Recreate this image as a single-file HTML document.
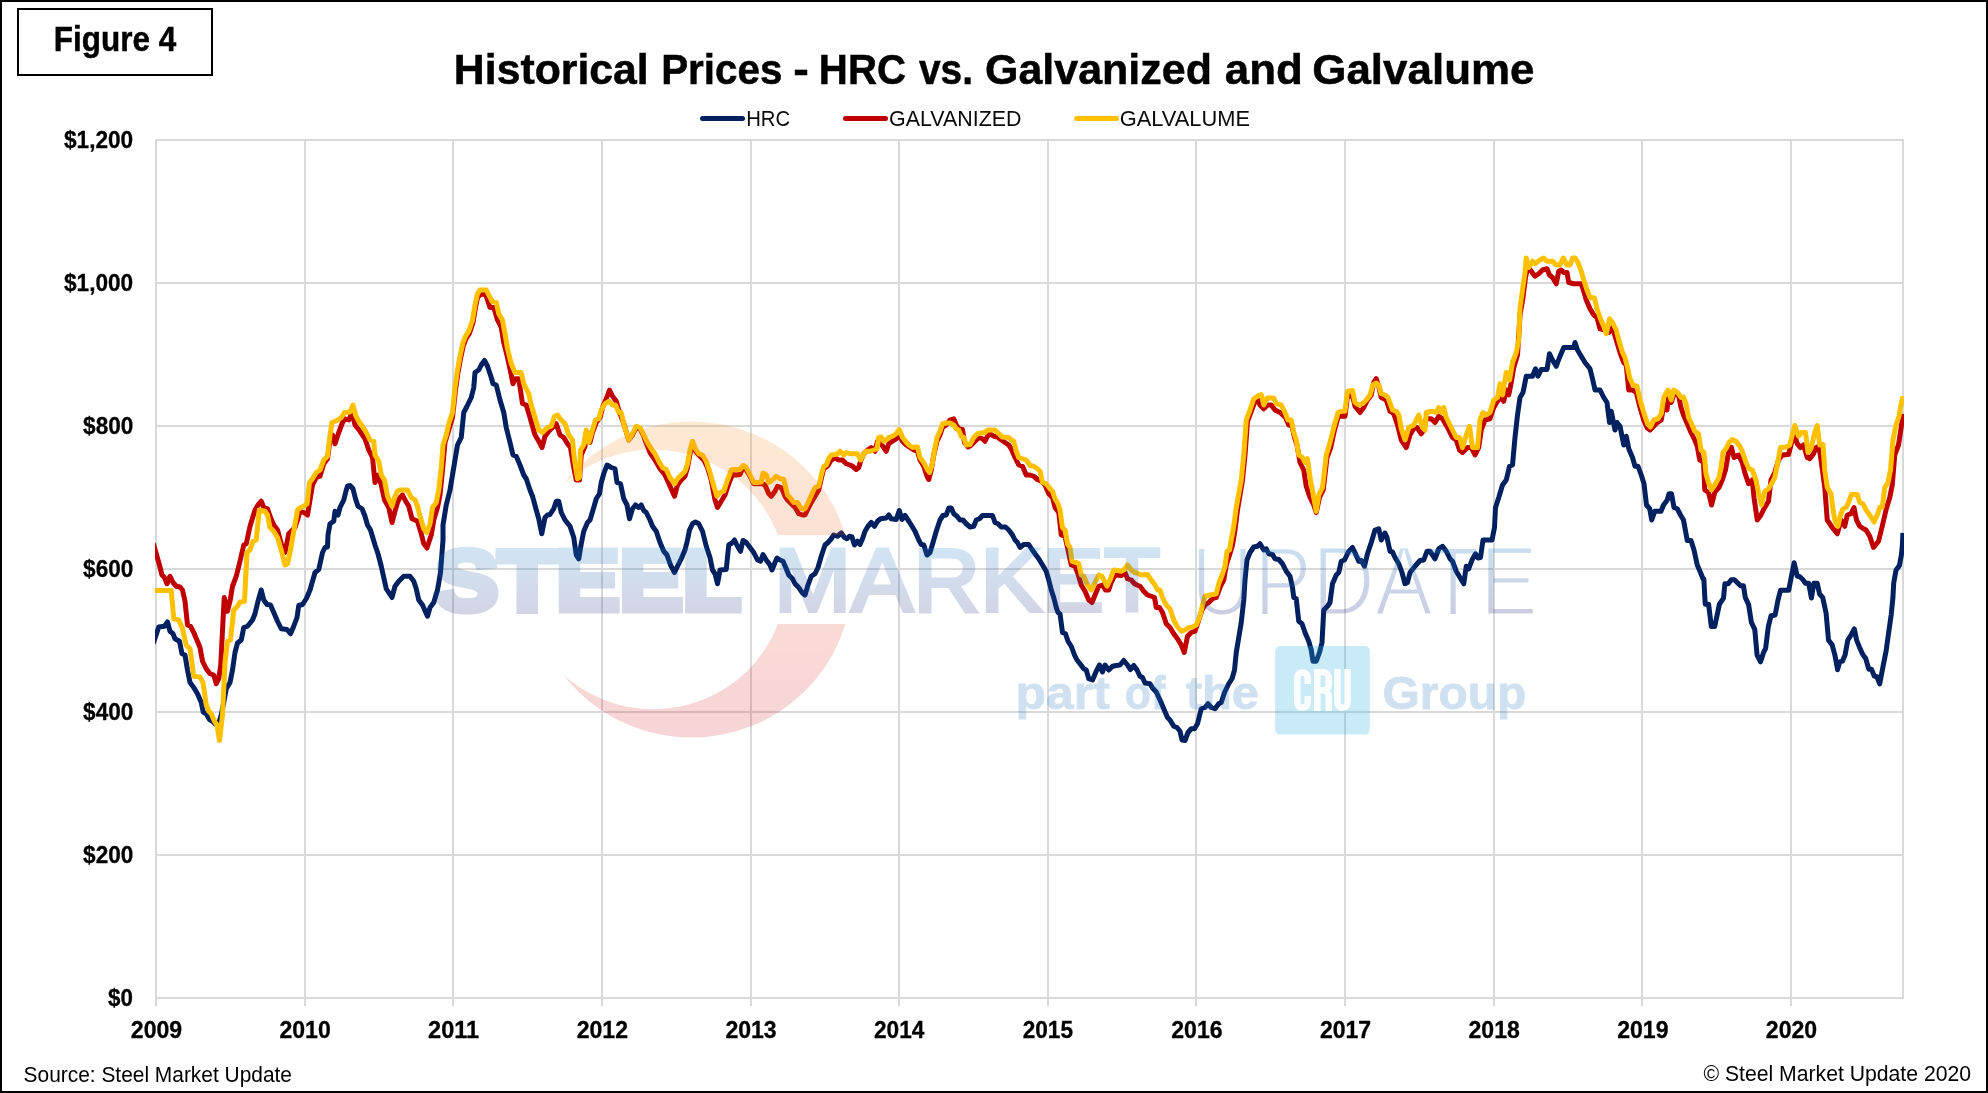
<!DOCTYPE html>
<html lang="en">
<head>
<meta charset="utf-8">
<title>Figure 4 - Historical Prices - HRC vs. Galvanized and Galvalume</title>
<style>
  html, body { margin: 0; padding: 0; background: #ffffff; }
  body { width: 1988px; height: 1093px; overflow: hidden; font-family: "Liberation Sans", sans-serif; }
  svg { display: block; will-change: transform; }
  text { font-family: "Liberation Sans", sans-serif; }
  .grid line { stroke: #d9d9d9; stroke-width: 2; shape-rendering: crispEdges; }
  .axis text { fill: #000; }
  .series polyline { fill: none; stroke-width: 5; stroke-linejoin: round; stroke-linecap: butt; }
</style>
</head>
<body>
<svg width="1988" height="1093" viewBox="0 0 1988 1093">
  <defs>
    <linearGradient id="gCres" x1="0" y1="421" x2="0" y2="739" gradientUnits="userSpaceOnUse">
      <stop offset="0" stop-color="#f7941d"/>
      <stop offset="0.45" stop-color="#ee5a28"/>
      <stop offset="1" stop-color="#cf2030"/>
    </linearGradient>
    <linearGradient id="gTxt" x1="0" y1="547" x2="0" y2="613" gradientUnits="userSpaceOnUse">
      <stop offset="0" stop-color="#2b86c9"/>
      <stop offset="1" stop-color="#363c8c"/>
    </linearGradient>
    <clipPath id="plotClip"><rect x="155" y="139" width="1749" height="860"/></clipPath>
    <mask id="updMask" maskUnits="userSpaceOnUse" x="1185" y="535" width="360" height="90">
      <text x="1190.77" y="614.6" font-size="98" textLength="347.2" lengthAdjust="spacingAndGlyphs" fill="#fff" stroke="#000" stroke-width="3.2">UPDATE</text>
    </mask>
    <mask id="cresMask" maskUnits="userSpaceOnUse" x="500" y="400" width="400" height="360">
      <ellipse cx="691.4" cy="579.5" rx="160.5" ry="158.1" fill="#fff"/>
      <ellipse cx="653.2" cy="579.5" rx="132.6" ry="129.7" fill="#000"/>
      <rect x="500" y="535.2" width="400" height="88.8" fill="#000"/>
    </mask>
  </defs>

  <!-- background + outer border -->
  <rect x="0" y="0" width="1988" height="1093" fill="#ffffff"/>
  <rect x="1" y="1" width="1986" height="1091" fill="none" stroke="#000000" stroke-width="2"/>

  <!-- Figure label box -->
  <rect x="18" y="9" width="194" height="66" fill="#ffffff" stroke="#000000" stroke-width="2"/>
  <g><text x="53.8" y="50.9" font-size="35" font-weight="bold" textLength="122.32" lengthAdjust="spacingAndGlyphs" stroke="#000" stroke-width="0.5">Figure 4</text></g>

  <!-- Title -->
  <g fill="#000" stroke="#000" stroke-width="0.5">
    <text x="453.89" y="84.4" font-size="42.6" font-weight="bold" textLength="194.83" lengthAdjust="spacingAndGlyphs">Historical</text>
    <text x="661.15" y="84.4" font-size="42.6" font-weight="bold" textLength="121.44" lengthAdjust="spacingAndGlyphs">Prices</text>
    <text x="793.3" y="84.4" font-size="42.6" font-weight="bold" textLength="15.61" lengthAdjust="spacingAndGlyphs">-</text>
    <text x="818.87" y="84.4" font-size="42.6" font-weight="bold" textLength="87.14" lengthAdjust="spacingAndGlyphs">HRC</text>
    <text x="918.9" y="84.4" font-size="42.6" font-weight="bold" textLength="54.13" lengthAdjust="spacingAndGlyphs">vs.</text>
    <text x="984.98" y="84.4" font-size="42.6" font-weight="bold" textLength="226.94" lengthAdjust="spacingAndGlyphs">Galvanized</text>
    <text x="1224.77" y="84.4" font-size="42.6" font-weight="bold" textLength="78.05" lengthAdjust="spacingAndGlyphs">and</text>
    <text x="1312.24" y="84.4" font-size="42.6" font-weight="bold" textLength="222.26" lengthAdjust="spacingAndGlyphs">Galvalume</text>
  </g>

  <!-- Legend -->
  <g fill="#0a0a0a">
    <line x1="702.5" y1="118.5" x2="742.5" y2="118.5" stroke="#002060" stroke-width="5" stroke-linecap="round"/>
    <text x="746.16" y="126" font-size="22" textLength="43.96" lengthAdjust="spacingAndGlyphs">HRC</text>
    <line x1="845.5" y1="118.5" x2="885.5" y2="118.5" stroke="#c00000" stroke-width="5" stroke-linecap="round"/>
    <text x="889.03" y="126" font-size="22" textLength="132.45" lengthAdjust="spacingAndGlyphs">GALVANIZED</text>
    <line x1="1076.7" y1="118.5" x2="1116.5" y2="118.5" stroke="#ffc000" stroke-width="5" stroke-linecap="round"/>
    <text x="1119.71" y="126" font-size="22" textLength="130.32" lengthAdjust="spacingAndGlyphs">GALVALUME</text>
  </g>

  <!-- Grid -->
  <g class="grid">
    <line x1="155.0" y1="140" x2="1904.0" y2="140"/>
    <line x1="155.0" y1="283" x2="1904.0" y2="283"/>
    <line x1="155.0" y1="426" x2="1904.0" y2="426"/>
    <line x1="155.0" y1="569" x2="1904.0" y2="569"/>
    <line x1="155.0" y1="712" x2="1904.0" y2="712"/>
    <line x1="155.0" y1="855" x2="1904.0" y2="855"/>
    <line x1="155.0" y1="998" x2="1904.0" y2="998"/>
    <line x1="156" y1="139.0" x2="156" y2="1006.0"/>
    <line x1="305" y1="139.0" x2="305" y2="1006.0"/>
    <line x1="453" y1="139.0" x2="453" y2="1006.0"/>
    <line x1="602" y1="139.0" x2="602" y2="1006.0"/>
    <line x1="751" y1="139.0" x2="751" y2="1006.0"/>
    <line x1="899" y1="139.0" x2="899" y2="1006.0"/>
    <line x1="1048" y1="139.0" x2="1048" y2="1006.0"/>
    <line x1="1196" y1="139.0" x2="1196" y2="1006.0"/>
    <line x1="1345" y1="139.0" x2="1345" y2="1006.0"/>
    <line x1="1494" y1="139.0" x2="1494" y2="1006.0"/>
    <line x1="1642" y1="139.0" x2="1642" y2="1006.0"/>
    <line x1="1791" y1="139.0" x2="1791" y2="1006.0"/>
    <line x1="1903.0" y1="139.0" x2="1903.0" y2="999.0"/>
  </g>

  <!-- Axis labels -->
  <g class="axis" stroke="#000" stroke-width="0.3">
    <text x="64.0" y="147.8" font-size="23.8" font-weight="bold" textLength="69.16" lengthAdjust="spacingAndGlyphs">$1,200</text>
    <text x="64.0" y="290.8" font-size="23.8" font-weight="bold" textLength="69.16" lengthAdjust="spacingAndGlyphs">$1,000</text>
    <text x="83.1" y="433.8" font-size="23.8" font-weight="bold" textLength="50.2" lengthAdjust="spacingAndGlyphs">$800</text>
    <text x="83.1" y="576.8" font-size="23.8" font-weight="bold" textLength="50.2" lengthAdjust="spacingAndGlyphs">$600</text>
    <text x="83.1" y="719.8" font-size="23.8" font-weight="bold" textLength="50.2" lengthAdjust="spacingAndGlyphs">$400</text>
    <text x="83.1" y="862.8" font-size="23.8" font-weight="bold" textLength="50.2" lengthAdjust="spacingAndGlyphs">$200</text>
    <text x="108.0" y="1005.8" font-size="23.8" font-weight="bold" textLength="24.85" lengthAdjust="spacingAndGlyphs">$0</text>
    <text x="130.83" y="1038" font-size="23.8" font-weight="bold" textLength="51.29" lengthAdjust="spacingAndGlyphs">2009</text>
    <text x="279.47" y="1038" font-size="23.8" font-weight="bold" textLength="51.29" lengthAdjust="spacingAndGlyphs">2010</text>
    <text x="428.08" y="1038" font-size="23.8" font-weight="bold" textLength="51.02" lengthAdjust="spacingAndGlyphs">2011</text>
    <text x="576.74" y="1038" font-size="23.8" font-weight="bold" textLength="51.29" lengthAdjust="spacingAndGlyphs">2012</text>
    <text x="725.38" y="1038" font-size="23.8" font-weight="bold" textLength="51.29" lengthAdjust="spacingAndGlyphs">2013</text>
    <text x="874.03" y="1038" font-size="23.8" font-weight="bold" textLength="50.31" lengthAdjust="spacingAndGlyphs">2014</text>
    <text x="1022.67" y="1038" font-size="23.8" font-weight="bold" textLength="50.31" lengthAdjust="spacingAndGlyphs">2015</text>
    <text x="1171.29" y="1038" font-size="23.8" font-weight="bold" textLength="51.29" lengthAdjust="spacingAndGlyphs">2016</text>
    <text x="1319.92" y="1038" font-size="23.8" font-weight="bold" textLength="51.29" lengthAdjust="spacingAndGlyphs">2017</text>
    <text x="1468.56" y="1038" font-size="23.8" font-weight="bold" textLength="51.29" lengthAdjust="spacingAndGlyphs">2018</text>
    <text x="1617.2" y="1038" font-size="23.8" font-weight="bold" textLength="51.29" lengthAdjust="spacingAndGlyphs">2019</text>
    <text x="1765.83" y="1038" font-size="23.8" font-weight="bold" textLength="51.29" lengthAdjust="spacingAndGlyphs">2020</text>
  </g>

  <!-- Series -->
  <g class="series" clip-path="url(#plotClip)">
    <polyline stroke="#002060" points="153.25,643.5 156.25,634.5 158.75,627 164.5,626.25 167.5,622 170,631.25 173,633.75 175,638.75 179.5,641.25 182,653.75 185,655 187.5,670 190,682.5 193.75,687.5 197.5,693.75 201.25,702.5 203.25,712 206.25,713.75 209.5,719.5 212.5,721.25 215.5,724.25 218.75,723 221.25,715 223.75,702.5 226.25,688.75 230,682.5 232.5,670 235,652.5 237.5,643 241.25,640 243.75,627.5 247.5,626.25 252.5,620 255,613.75 258,601.25 261.25,590 263.75,600 267,604.5 270.5,605 273.75,612.5 277.5,621.25 281.25,628.75 287,629.5 290.5,633.75 293.75,626.25 297,617.5 298.75,605.5 302.5,604.5 306.25,598.75 310,590 315,572.5 318.75,569.5 322.5,552.5 325,547.5 327.5,547 328,535 330,523.75 333.75,521.25 335,511.25 338,515 340,507.5 343.75,500 346.25,490 347.5,486.25 350,485.5 353,488.75 355.5,498.75 358,506.25 362,508.75 365,516.25 367.5,525 370.5,530 375,545 378,553.75 381.25,566.25 386.25,588.75 392,597.5 395,586.25 398.75,581.25 403.75,576.25 410,576.25 413.75,581.25 416.25,588.75 418.75,600 422.5,605 427.5,616.25 430,607.5 433.75,602.5 437.5,590 440.5,572.5 443,540 443,525 446.25,505 450,490 453.75,467.5 457.5,445 461.25,437.5 463.75,412.5 467,406.25 471.25,397.5 473.75,387.5 475,372.5 478.75,370 481.25,365 484.5,360.5 487.5,366.25 491.25,377.5 493,383.75 496.25,385 500,400 503.75,412.5 506.25,427.5 510,442.5 513,455 516.25,456.25 520,465 523.75,475 526.25,478.75 530,490 532.5,496.25 536.25,510 538.75,518.75 541.75,533.75 545,517.5 547.5,515 550,514.5 553.75,508.75 556.25,501.25 558.75,501.25 561.25,512.5 565,520 570,526.25 573.75,537.5 576.25,555 578.75,558.75 581.25,543.75 583.75,531.25 587.5,522.5 590,520 593.75,507.5 596.25,498.75 599.5,493.75 601.25,482.5 603.75,473.75 607,465 611.25,467.5 615,468.75 617,482.5 620.5,483.75 623.75,498.75 627,505 629.5,518.75 632.5,508.75 635.5,505 638.75,507.5 641.25,505 643.75,510.5 646.25,512.5 650,520 652.5,526.25 656.25,531.25 660,542.5 663.75,551.25 667,555 670.5,565 674.5,572.5 677.5,566.25 681.25,558.75 685,550 687.5,540 689.5,530 692.5,523.75 695.5,522 698.75,523.75 702.5,531.25 706.25,546.25 710,557.5 712.5,570 715,573.75 717.5,583.75 720,570 726.25,569.5 728.75,545 732,543 734.5,540 737.5,546.25 740.5,551.25 743,540.5 746.25,542.5 750,547.5 753.75,552.5 757.5,560 760.5,561.25 763,554.5 766.25,560 770,565 772,570 775,562.5 777,558 780,560 783,561.25 786.25,568.75 788.75,575 792.5,578.75 795,583.75 798.75,587.5 802,592.5 805,595 808,585 811.25,576.25 815,573.75 818,567.5 821.25,556.25 825,545 828,542.5 831.25,538.75 833.75,535 837.5,536.25 841.25,533 844.5,537.5 847,538.75 849.5,536.25 852,537 854.5,545 857.5,541.25 860,544.5 862.5,538.75 865,531.25 868,526.25 871.25,522.5 874.5,526.25 877.5,521.25 880.5,518.75 886.25,518 888.75,515 891.25,518.75 896.25,519.5 899.25,510.5 902,519.5 905,515.5 908,520 911.25,525 915,531.25 918.75,540 921.25,544.5 923.75,545 927,555 930,552.5 933,542.5 936.25,531.25 940,520 943,515.5 946.25,515 948.75,508 951.25,508 953.75,513.75 957,516.25 960,520 963,520 966.25,523.75 970,527 973.75,526.25 976.25,520 979.5,518.75 982.5,515.5 992.5,515.5 995,522.5 998,523.75 1001.25,527 1005.5,527 1008.75,530 1012.5,535 1015,540 1017.5,542.5 1020,547.5 1023.75,544.5 1028.75,544.5 1032,549.5 1035,553.75 1038.75,558.75 1042.5,565 1046.25,571.25 1048.75,580 1051.25,590 1053.75,597.5 1056.25,607.5 1058,612.5 1060,613.75 1062.5,632.5 1065.5,633.75 1068,641.25 1071.25,646.25 1074.5,655 1077,660 1080,663.75 1083.75,668.75 1086.25,670 1088.75,678.75 1092.5,680 1096.25,671.25 1099.5,665 1102.5,672 1105,665 1108.75,670 1112.5,666.25 1116.25,665.5 1120,665 1123.75,660.5 1127.5,665 1130.5,669.5 1133.75,665.5 1137,670 1140,676.25 1142.5,677.5 1145,683 1150,683.75 1152.5,688 1156.25,692 1160,700 1163.75,708.75 1167.5,717.5 1170,720 1173.75,726.25 1177,727.5 1180,731.25 1182,740 1185,740.5 1188,732.5 1191.25,728.75 1194.5,728.75 1197.5,723.75 1201.25,708.75 1205,707.5 1208,703.75 1211.25,707.5 1215,708.75 1218.75,703.75 1221.25,702.5 1224.5,692.5 1228.75,683.75 1232,678.75 1234.5,670 1236.25,652.5 1238.75,637.5 1241.25,622.5 1243.75,600 1245,580 1247,560 1250,552.5 1253.75,547 1257.5,546.25 1260,543.75 1263.75,550 1266.25,548.75 1268.75,553.75 1272.5,554.5 1275,558.75 1278.75,559.5 1282.5,563.75 1286.25,571.25 1290,576.25 1292.5,587.5 1293.75,597.5 1296.25,598.75 1298.75,621.25 1302,623.75 1305,632.5 1308.75,641.25 1311.25,650 1313,661.25 1316.25,661.25 1319.5,652.5 1322,642.5 1323.75,610 1327.5,606.25 1330,602.5 1332.5,583.75 1336.25,575 1338.75,572.5 1341.25,561.25 1344.5,560 1348.75,551.25 1352.5,547.5 1355.5,553.75 1358.75,561.25 1361.25,560.5 1364.5,566.25 1367.5,553.75 1371.25,542.5 1375,530 1378.75,528.75 1381.25,540 1385,533 1387,537.5 1390,551.25 1392.5,552 1395,557.5 1398.75,563.75 1402,572.5 1405,583.75 1407.5,582.5 1410,572.5 1415,566.25 1420,560.5 1423.75,560 1427,551.25 1430,551.25 1435,558.75 1438.75,548.75 1442.5,546.25 1446.25,551.25 1450,558.75 1452.5,561.25 1456.25,571.25 1460,577.5 1463.75,583.75 1466.25,566.25 1468.75,568.75 1472,560 1475.5,553.75 1478,558 1480.5,557.5 1483,540 1492,540 1494.5,527.5 1495.5,507.5 1498.75,497.5 1502.5,485 1506.25,480 1509.5,466.25 1512.5,465 1515,437.5 1517.5,415 1520,397.5 1523,392.5 1526.25,376.25 1532.5,376.25 1535.5,368.75 1538,376.25 1541.25,369.5 1547,369.5 1549.5,353.75 1552.5,360 1556.25,366.25 1559.5,357.5 1563.75,347.5 1573.75,347.5 1575,342.5 1577.5,350 1581.25,356.25 1585,362.5 1590,368.75 1592.5,378.75 1595,390 1600,390 1603.75,397.5 1607,402.5 1609.5,422.5 1611.25,411.25 1615,430 1617,422.5 1620,426.25 1623.75,445 1626.25,436.25 1628.75,448.75 1632.5,457.5 1635,466.25 1638,466.25 1641.25,475 1644,483.75 1646.5,505 1649.75,508.75 1651.75,520 1654.75,511.25 1661,511.25 1663.5,505 1667.25,500 1669,493.75 1671.5,493.75 1674,507.5 1677.25,508.75 1680.5,515 1683.5,520 1687.25,540.5 1691,540.5 1694,550 1697.25,565 1700.5,572.5 1703,578.75 1703.83,579.01 1705.19,604.14 1708.59,604.14 1711.3,626.55 1714.7,626.55 1719.45,604.14 1723.53,598.03 1724.88,583.77 1728.28,583.77 1731.27,579.69 1734.39,579.69 1740.5,585.8 1743.49,585.8 1745.26,597.35 1748.65,604.82 1751.37,622.47 1754.76,629.27 1757.07,655.07 1760.6,661.86 1763.59,652.35 1765.63,648.28 1768.34,626.55 1771.06,615.68 1775.14,615 1777.85,600.74 1780.57,590.15 1788.72,590.15 1791.43,576.3 1794.15,562.72 1797.27,576.3 1799.58,576.57 1802.3,579.01 1805.69,583.36 1808.68,583.36 1811.4,598.03 1813.84,583.36 1817.24,583.36 1819.55,593.95 1822.67,597.35 1826.07,612.97 1828.51,640.13 1832.18,644.88 1834.89,655.07 1837.61,669.74 1839.65,661.86 1842.36,661.18 1845.08,655.07 1847.8,640.13 1851.19,634.7 1854.31,628.99 1856.62,640.13 1859.34,646.92 1862.74,654.39 1865.72,658.47 1868.85,669.33 1871.56,669.33 1874.28,676.12 1877,676.8 1879.71,683.86 1883.11,665.94 1886.1,651 1888.54,633.34 1891.26,614.33 1892.89,598.03 1893.7,583.09 1896.01,570.19 1899.41,565.43 1901.44,554.57 1902.39,545.06 1902.94,532.84"/>
    <polyline stroke="#c00000" points="153.25,543.25 156.25,553.75 158.75,562.5 162,575 164.5,577.5 167,583.75 170,576.25 173,582.5 176.25,586.25 180,587 182.5,590 185,601.25 187.5,625 190.5,626.25 193.75,632.5 200,647.5 202.5,661.25 206.25,668.75 210,673.75 213.75,675 216.25,683.75 218.75,678.75 220.75,665 222.5,630 224.25,597.5 227.5,611.25 230,601.25 232.5,586.25 236.25,576.25 240,561.25 243.75,545 246.25,543.75 250,526.25 255,510 258,505 261.25,501.25 263.75,507.5 267.5,508.75 270,516.25 273.75,525 277.5,530 281.25,543.75 285,552.5 288.75,533.75 295,527.5 297.5,520 300,511.25 303.75,512.5 307.5,515 310,500 312.5,485 316.25,477.5 320,476.25 323.75,463.75 327.5,458.75 330,440 332.5,435 335,443.75 338.75,432.5 342.5,422.5 345,418.75 348.75,420 352,412.5 355,425 360,431.25 365,438.75 368.75,450 372.5,457.5 375,482.5 378,475 381.25,485 384.5,500 388.75,507.5 392,522.5 395,511.25 397.5,502.5 400,497.5 402.5,495 405,500 408.75,506.25 412,518.75 417.5,521.25 421.25,533.75 423.75,543.75 427,548 430,538.75 431.25,535 433.75,520 437.5,507.5 440,495 442.5,470 445,442.5 448.75,430 452.5,417.5 455.5,390 458,372.5 460.5,358.75 463.5,345 466,338.75 469.25,333.75 473,322.5 475.5,307.5 477.5,297.5 480,295 483.75,293.75 486.25,296.25 490,307.5 493.75,307.5 497.5,320 501.25,327.5 503.75,342.5 507.5,357.5 511.25,375 513,383.75 515.5,378.75 518.75,378.75 522.5,403.75 526.25,405 530,417.5 535,435 538.75,441.25 542,447.5 545,436.25 548.75,431.25 552.5,427.5 556.25,423.75 560,435 563.75,437.5 567.5,443.75 570.5,447.5 573.75,467.5 576.25,480 579.5,480 581.25,455 585,446.25 587.5,432.5 590,442.5 592.5,432.5 596.25,422.5 600,417.5 603,406.25 606.25,398.75 609.5,390 612.5,396.25 616.25,401.25 618.75,410 622.5,420 625,427.5 628.75,440 632.5,435 636.25,427.5 640,428.75 643.75,436.25 645,440 650,452.5 655,460 660,468.75 665,475 670,486.25 674.5,496.25 677.5,485 681.25,480 685,476.25 687.5,467.5 690,453.75 692.5,445 695.5,451.25 700,456.25 703.75,460 707.5,467.5 711.25,480 715,500 717.5,507.5 721.25,501.25 725,495 728.75,483.75 732.5,474.5 736.25,475 740,474.5 743,467.5 746.25,470 750,476.25 753.75,483.75 758.75,483.75 762.5,483.75 765,485 768.75,493.75 771.25,496.25 775,491.25 777.5,486.25 781.25,487.5 785,496.25 787.5,500 791.25,503.75 795,507.5 798.75,513.75 802.5,515 805,515 807.5,510 811.25,502.5 815,496.25 818.75,490 821.25,478.75 823.75,468.75 827.5,466.25 831.25,460 835,458 838.75,460 842.5,460 846.25,463.75 850,465 852.5,466.25 856.25,469.5 858.75,467.5 860.5,461.25 863.75,453.75 867.5,450 871.25,447.5 875,451.25 877.5,441.25 880,442.5 883.75,447.5 886.25,451.25 888.75,443.75 892.5,441.25 896.25,438.75 899.25,435 902.5,441.25 906.25,445 910,447.5 913.75,450 917.5,451.25 920,460 923.75,466.25 927,476.25 928.75,479.5 931.25,470 933.75,455 937,441.25 940,435 942.5,427.5 946.25,425 950,420 953.75,418.75 956.25,425 958.75,428.75 962.5,429.5 964.5,442.5 968,447 971.25,445 975,441.25 978.75,437.5 982.5,438.75 985,441.25 987.5,436.25 990,433.75 993.75,436.25 997.5,437 1001.25,440 1005,442.5 1008.75,445 1011.25,448.75 1015,457.5 1018.75,465 1022.5,466.25 1026.25,475 1030,475 1033.75,476.25 1037.5,479.5 1041.25,481.25 1045,485 1048.75,493.75 1052.5,497.5 1055,507.5 1058.75,512.5 1061.25,535 1065,536.25 1068,550 1071.25,565 1075,566.25 1077.5,572.5 1081.25,585 1085,591.25 1088.75,600 1092,602.5 1095,595 1098.75,586.25 1102.5,585 1105.5,590 1108.75,590 1111.25,582.5 1115,575 1121.25,575.5 1125,572.5 1127.5,578.75 1131.25,580 1134.5,583.75 1137,585 1140,586.25 1143.75,591.25 1147.5,595 1151.25,596.25 1154.5,597.5 1156.25,607.5 1159.5,607.5 1162.5,612.5 1166.25,623.75 1170,627.5 1173.75,633.75 1177.5,638.75 1181.25,645 1184.25,652.5 1187.5,636.25 1191.25,632.5 1195,631.25 1198.75,620 1202,610 1205,605 1208.75,602.5 1212.5,598.75 1216.25,597.5 1220,587.5 1223.75,580 1226.25,565 1229.5,555 1232.5,545 1235,530 1237.5,510 1240,495 1242.5,480 1245,455 1247.5,421.25 1251.25,411.25 1255,401.25 1258,400 1260,405 1263.75,408.75 1267.5,405 1271.25,405 1275,410 1280,412.5 1285.5,417.5 1288.75,425 1292,426.25 1294.5,437.5 1297,445 1300,462.5 1303.75,470 1306.25,486.25 1310,497.5 1313.75,505 1316.25,512.5 1319.5,497.5 1323.25,490 1327,457.5 1330.75,447.5 1334.5,430 1338,417.5 1340,416.25 1345,416.25 1347.5,396.25 1352.5,395.5 1355,406.25 1360,412.5 1363.75,407.5 1367.5,400 1371.25,395 1373.75,382.5 1376.25,378.75 1378.75,386.25 1381.25,397.5 1386.25,400 1390,411.25 1393.75,413.75 1397.5,425 1401.25,440 1406.25,447.5 1410,435 1413.75,428.75 1417,427.5 1421.25,433.75 1423.75,430 1426.25,418.75 1431.25,418.75 1435,422.5 1438.75,416.25 1442.5,418.75 1447.5,427.5 1452.5,437.5 1456.25,440 1459.5,450 1462.5,452.5 1467.5,447.5 1471.25,447.5 1475,455 1478.75,447.5 1481.25,430 1485,420 1490,418.75 1493.75,407.5 1497.5,401.25 1501.25,397.5 1503.75,401.25 1506.25,390 1508.75,395 1511.25,382.5 1513.75,367.5 1517.5,355 1520,315 1523,297.5 1525.5,277.5 1528,266.25 1531.25,271.25 1535,276.25 1538.75,273.75 1542.5,270 1547,268.75 1549.5,275 1552.5,277.5 1556.25,283.75 1558.75,271.25 1561.25,270 1563.75,272.5 1567,272.5 1568.75,282.5 1573.75,283.75 1581.25,283.75 1583.75,291.25 1586.25,300 1590,308.75 1593.75,315 1597,317.5 1600,328.75 1605,330 1608.75,332.5 1612.5,327.5 1616.25,340 1620,352.5 1623.75,362.5 1626.25,365 1628.75,390 1632.5,390 1636.25,392.5 1640,407.5 1643.75,420 1647,427.5 1650,430 1653.75,426.25 1657.5,422.5 1661.25,420 1663.75,405 1667,410 1668.75,395 1671.25,402.5 1675,391.25 1678.75,396.25 1681,407.5 1683.5,415 1687.25,423.75 1691,432.5 1694.75,440 1697.25,446.25 1699.75,460 1703.5,462.5 1704.75,490 1708.5,492.5 1711.5,505 1714.75,492.5 1719,487.5 1722.25,480 1725.5,470 1728.5,452.5 1731.5,447.5 1734,457.5 1738.5,455 1742.25,462.5 1744.75,472.5 1748.5,483.75 1752.25,480 1754,497.5 1757.25,520 1761,515 1764,508.75 1768.5,501.25 1771,480 1774.75,472.5 1778.5,460 1782.25,455 1788.5,454.5 1791,445 1794,433.75 1797.25,443.75 1800.5,447.5 1803.5,445 1807.25,457.5 1809.75,458.75 1813.5,453.75 1816,447.5 1819,446.25 1821,460 1824.75,487.5 1827.25,520 1832.25,527.5 1837.25,533.75 1841,520 1844.75,526.25 1847.25,515 1851,513.75 1854,507.5 1856.5,520 1859.75,526.25 1863.5,528.75 1866,530 1869.75,536.25 1873.5,547.5 1878.5,541.25 1882.25,526.25 1886,510 1889.75,497.5 1892.25,485 1894.75,455 1898.5,445 1901,428.75 1903,413.75"/>
    <polyline stroke="#ffc000" points="153.25,590.5 156.25,590.5 171.25,590.5 173.75,618.75 178.75,620 182.5,628.75 186.25,645 190,648.75 193.75,676.25 200,677 203,682.5 206.25,705 208.75,711.25 211.25,713.75 214.5,721.25 217,725 219.5,740.5 222.5,715 225,662.5 227.5,641.25 230.5,640 233.75,610 237.5,606.25 240,602 244.5,601.25 247,552.5 250,550 253,541.25 256.25,540 259.25,510 265,511.25 267.5,515 270,527.5 273.75,531.25 277.5,537.5 281.25,550 285,565 287.5,563.75 290.5,550 293.75,531.25 297.5,510 300,508 303.75,506.25 307,503.75 309.5,482.5 312.5,478.75 316.25,472.5 320,470 323.75,460 327.5,456.25 330,435 332,422.5 335,421.25 338,420 341.25,417.5 344.5,412.5 350,412 353,405 355.5,415 358.75,421.25 362.5,426.25 366.25,432.5 370,440 373.75,441.25 375,455 378.75,461.25 381.25,475 384.5,480 387.5,496.25 392,506.25 395,496.25 397.5,491.25 400,490 407.5,490 411.25,497.5 415,500 417.5,506.25 420,516.25 423.75,528.75 427,532.5 430,523.75 432.5,507.5 436.25,502.5 438.75,490 441.25,467.5 443,445 446.25,435 448.75,423.75 452.5,412.5 455,387.5 457.5,370 460,356.25 463,342.5 465.5,336.25 468.75,331.25 472.5,320 475,305 477.5,293.75 480,290 486.25,290 488.75,295 492,301.25 496.25,302.5 498.75,313.75 502.5,320 505,333.75 507.5,348.75 511.25,363.75 515,372.5 521.25,372.5 523.75,383.75 528.75,393.75 531.25,405 535,417.5 538.75,430 542.5,432.5 547.5,427.5 551.25,426.25 554.5,416.25 557.5,415 561.25,420 565,423.75 568.75,435 572.5,440 574.5,460 577.5,478.75 579.5,477.5 580.5,450 583.75,445 586.25,430 588.75,442.5 592.5,430 595.5,420 598.75,418.75 601.25,410 605,403.75 608.75,401.25 612.5,405 615.5,405 618.75,412.5 621.25,412.5 623.75,423.75 628.75,440 632.5,433.75 636.25,426.25 640,427.5 643.75,435 643.75,435 647.5,442.5 651.25,448.75 655,453.75 658.75,461.25 662.5,467.5 666.25,469.5 670,477.5 674.5,483.75 677.5,478.75 681.25,475 685,471.25 687.5,463.75 690,450 692.5,441.25 695.5,448.75 698.75,453.75 702.5,455 706.25,461.25 710,472.5 713.75,486.25 717,496.25 720,492.5 723.75,491.25 727.5,480 731.25,470 735,469.5 740,469.5 743,465.5 746.25,467.5 750,475 753.75,482.5 757.5,482.5 761.25,482 763,473 766.25,475 768.75,482.5 772.5,480 776.25,476.25 780,478.75 783.75,479.5 787.5,495 790,497.5 793.75,502.5 797.5,502.5 801.25,508.75 805,508.75 808.75,501.25 812.5,492.5 815,487.5 818.75,486.25 821.25,475 823.75,466.25 826.25,465 828.75,458.75 831.25,455 835,454.5 837.5,453.75 840,451.25 843.75,455 846.25,452.5 850,453.75 857.5,453.75 860.5,460 863.75,453.75 866.25,451.25 870,451.25 873.75,450 877,448.75 878.75,437.5 881.25,437 883.75,441.25 886.25,440 888.75,437.5 892.5,436.25 896.25,433.75 899.25,429.5 902.5,437.5 905.5,441.25 908.75,445 912.5,447.5 915,447 917.5,447 920,457.5 923.75,462.5 927.5,470 929.5,472.5 932,465 934.5,450 937,437.5 940,431.25 942.5,423.75 946.25,423 950,423 953.75,425 956.25,428.75 958.75,430 961.25,436.25 963.75,437.5 966.25,445 970,444.5 973.75,437.5 977.5,433.75 981.25,433 985,432.5 987.5,430 995,430 998.75,433.75 1002.5,437 1008.75,437.5 1011.25,440 1013.75,441.25 1016.25,451.25 1018.75,457.5 1022.5,458.75 1026.25,460 1030,465.5 1033.75,466.25 1037.5,468.75 1040,471.25 1042.5,482.5 1046.25,483.75 1050,488.75 1052.5,491.25 1055,498.75 1058,503.75 1060,510 1062.5,527.5 1065,530 1067.5,543.75 1070,547.5 1072,561.25 1076.25,562.5 1078.75,563.75 1081.25,575 1083.75,576.25 1087.5,585 1091.25,590 1095,582.5 1098.75,575 1102,576.25 1107,586.25 1110,580 1113.75,570 1117.5,570.5 1121.25,571.25 1124.5,569.5 1127.5,565 1131.25,570 1134.5,572.5 1137,573 1141.25,575 1147.5,574.5 1151.25,580 1155,585 1157.5,590 1160,590 1162.5,597.5 1166.25,605 1170,608.75 1173.75,620 1177,626.25 1181.25,631.25 1185,630 1188.75,627.5 1192.5,627 1196.25,625 1200,616.25 1202.5,605 1205,596.25 1210,595 1216.25,593.75 1218.75,583.75 1222.5,573.75 1225,566.25 1227,551.25 1229.5,550 1231.25,540 1233.75,526.25 1236.25,507.5 1238.75,493.75 1241.25,480 1243.75,455 1246.25,420 1250,410 1253.75,398.75 1257.5,396.25 1261.25,394.5 1263.75,405 1267.5,398 1273.75,398 1276.25,403.75 1281.25,405 1285,412.5 1288,420 1291.25,420 1293.75,432.5 1296.25,440 1298.75,455 1302.5,457.5 1305,462.5 1307.5,458.75 1310,477.5 1313.75,497.5 1316.25,511.25 1318.75,495 1322.5,487.5 1326.25,455 1330,442.5 1333.75,427.5 1338,412.5 1341.25,411.25 1345,411.25 1347.5,391.25 1352.5,390.5 1355,402.5 1358.75,405 1362.5,403.75 1366.25,400 1370,395 1373,385 1376.25,383 1378.75,385 1381.25,393.75 1385,395 1388,397.5 1392.5,410 1396.25,411.25 1398.75,415 1401.25,428.75 1405,440 1408.75,427.5 1413.75,425 1418.75,415 1422.5,427.5 1425,430 1426.25,412.5 1432.5,411.25 1436.25,412.5 1438.75,407.5 1441.25,412.5 1443.75,407.5 1446.25,417.5 1450,425 1453.75,432.5 1456.25,437.5 1459.5,437.5 1462.5,447.5 1466.25,435 1469.5,426.25 1472.5,447.5 1477.5,447.5 1480,420 1483,412.5 1486.25,415 1490,412.5 1493.75,400 1497.5,397.5 1500,383.75 1502.5,395 1506.25,372.5 1509.5,380 1512.5,362.5 1516.25,352.5 1518.75,340 1520,307.5 1522.5,290 1525,272.5 1526.25,258 1528.75,267.5 1532.5,261.25 1535,263.75 1540,260 1543.75,258 1547,261.25 1552.5,261.25 1556.25,265 1560,265 1563.25,258 1567,265 1570,265 1572.5,258 1575,258 1578,262.5 1581.25,271.25 1583.75,280 1587,290 1590,297.5 1594.5,298 1597,308.75 1600,317.5 1603.75,326.25 1606.25,333.75 1609.5,318.75 1612.5,322.5 1616.25,330 1618.75,340 1622.5,352.5 1625,357.5 1627.5,367.5 1630,378.75 1633,385 1637,386.25 1640,400 1643.75,412.5 1647.5,423.75 1650.5,427 1653.75,420 1658,418.75 1661.25,413.75 1663.75,397.5 1668,390 1671.25,400 1673.75,390 1677.5,392.5 1681.25,397.5 1683.5,397 1686,403.75 1688.5,417.5 1691,422.5 1694.75,431.25 1698.5,433.75 1701,450 1704,452.5 1706,473.75 1708.5,482.5 1711.5,490 1714.75,485 1719,477.5 1721,467.5 1723,452.5 1726,448.75 1729,442.5 1732.25,439.5 1736,441.25 1739.75,446.25 1742.25,451.25 1746,462.5 1749,468.75 1752.25,470 1756,480 1759,495 1761.5,505 1764.75,491.25 1768.5,488.75 1772.25,482.5 1774.75,477.5 1777.25,465 1780.5,447.5 1786,447 1789.75,445 1792.25,435 1794.75,425.5 1798.5,436.25 1801,432.5 1805.5,432.5 1808,452.5 1811,448.75 1814.75,432.5 1817.25,425.5 1819.75,445 1823,444.5 1824.75,470 1827.25,487.5 1831,493.75 1833,510 1835.5,522.5 1838,526.25 1840.5,515 1843,508.75 1846,507.5 1848.5,502.5 1851.5,494.5 1857.25,494.5 1859.75,502.5 1863,503.75 1866,510 1869.75,515 1874,522 1877.25,515 1879.75,507.5 1882.25,507 1884.75,487.5 1888,482.5 1890.5,470 1893,440 1896,425 1899,416.25 1901,405 1903,396.25"/>
  </g>

  <!-- Watermark (drawn over the series, translucent) -->
  <g id="watermark">
    <rect x="520" y="415" width="345" height="330" fill="url(#gCres)" opacity="0.19" mask="url(#cresMask)"/>
    <g opacity="0.21" fill="url(#gTxt)">
      <text x="434.95" y="609.5" font-size="85" font-weight="bold" textLength="305.83" lengthAdjust="spacingAndGlyphs" stroke="url(#gTxt)" stroke-width="7" stroke-linejoin="miter">STEEL</text>
      <text x="774.05" y="611.1" font-size="89.5" textLength="386.48" lengthAdjust="spacingAndGlyphs" stroke="url(#gTxt)" stroke-width="3.8" stroke-linejoin="miter">MARKET</text>
    </g>
    <rect x="1185" y="535" width="360" height="90" fill="url(#gTxt)" opacity="0.25" mask="url(#updMask)"/>
    <g opacity="0.22" fill="#2b7cc4" stroke="#2b7cc4" stroke-width="0.9">
      <text x="1015.62" y="708.5" font-size="47" font-weight="bold" textLength="94.17" lengthAdjust="spacingAndGlyphs">part</text>
      <text x="1124.87" y="708.5" font-size="47" font-weight="bold" textLength="40.56" lengthAdjust="spacingAndGlyphs">of</text>
      <text x="1185.9" y="708.5" font-size="47" font-weight="bold" textLength="72.95" lengthAdjust="spacingAndGlyphs">the</text>
      <text x="1382.46" y="708.5" font-size="47" font-weight="bold" textLength="143.76" lengthAdjust="spacingAndGlyphs">Group</text>
    </g>
    <rect x="1275.2" y="646" width="94.6" height="88.6" rx="5" ry="5" fill="#38b0e3" opacity="0.27"/>
    <g fill="none" stroke="#ffffff" stroke-width="6.6" opacity="0.96">
      <path d="M 1307.7,684 V 677.6 A 5.2,5.2 0 0 0 1297.3,677.6 V 702.4 A 5.2,5.2 0 0 0 1307.7,702.4 V 696"/>
      <path d="M 1317.3,711 V 669 M 1317.3,672.3 H 1323.4 A 5.3,5.3 0 0 1 1328.7,677.6 V 685 A 5.3,5.3 0 0 1 1323.4,690.3 H 1317.3 M 1322.6,690.3 A 6.1,6.1 0 0 1 1328.7,696.4 V 711"/>
      <path d="M 1337.5,669 V 702.6 A 5,5 0 0 0 1347.5,702.6 V 669"/>
    </g>
  </g>

  <!-- Footer -->
  <g>
    <text x="23.62" y="1082" font-size="21.3" textLength="268.33" lengthAdjust="spacingAndGlyphs">Source: Steel Market Update</text>
    <text x="1703.4" y="1081" font-size="21.3" textLength="267.64" lengthAdjust="spacingAndGlyphs">© Steel Market Update 2020</text>
  </g>
</svg>
</body>
</html>
